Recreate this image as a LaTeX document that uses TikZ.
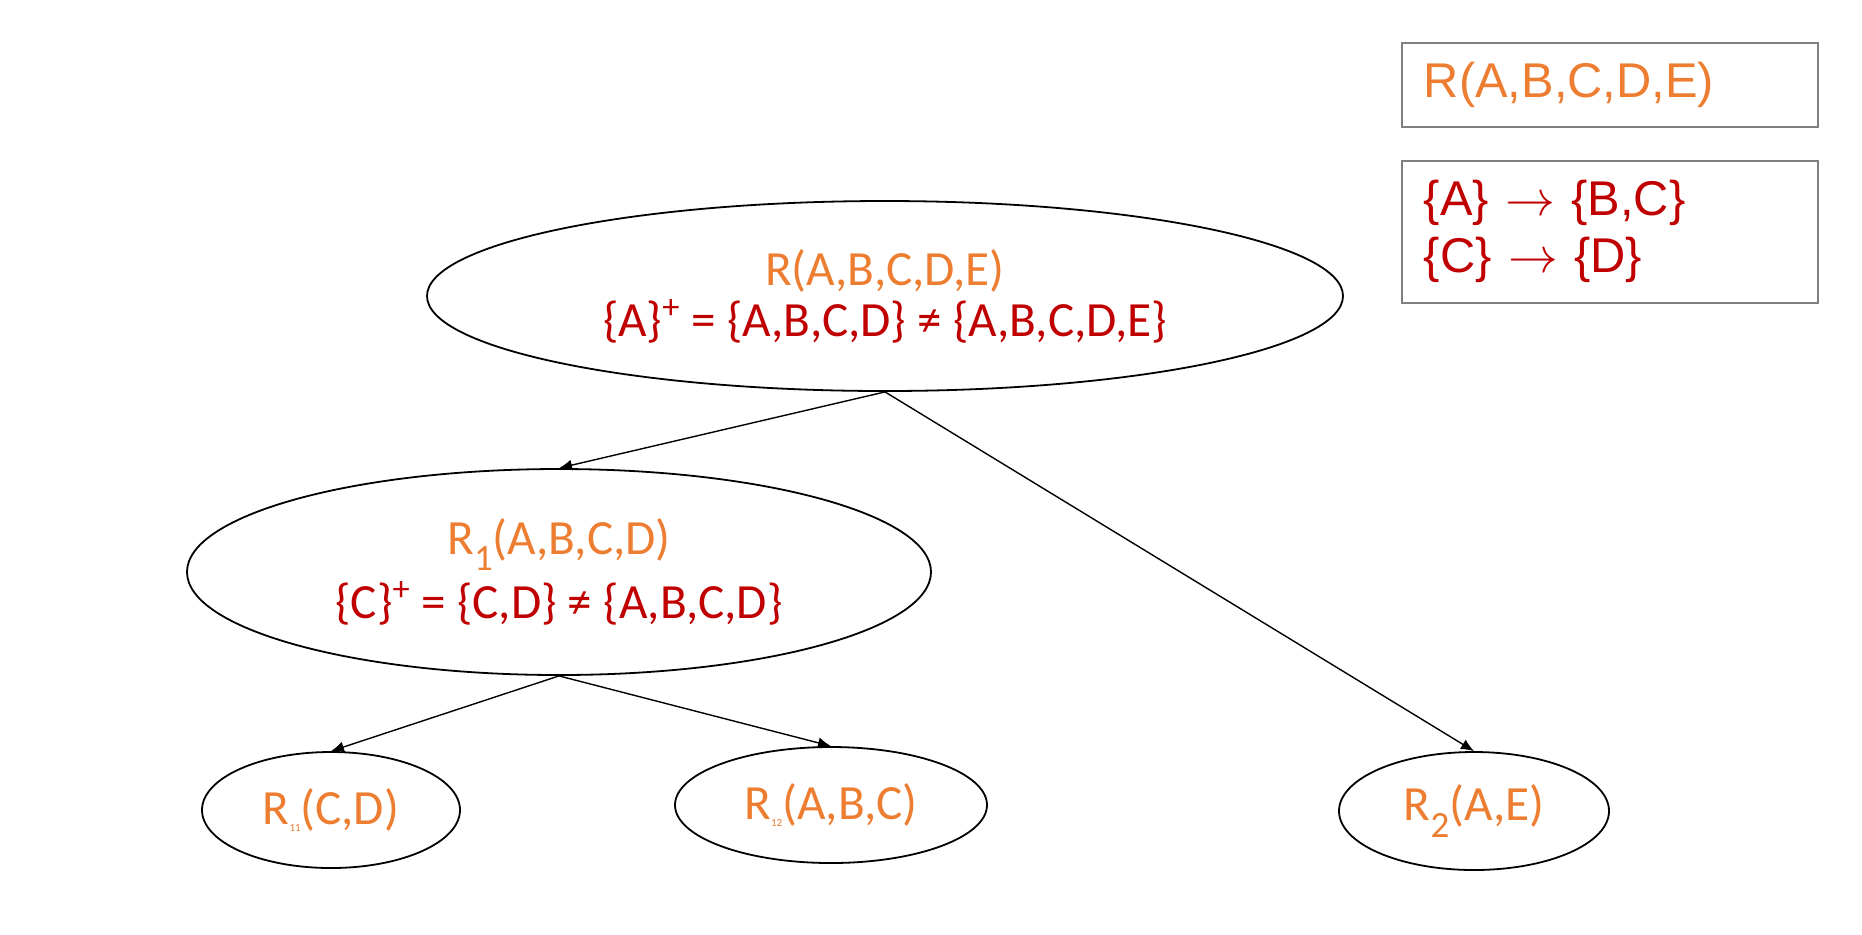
\documentclass[tikz,border=0pt]{standalone}
\usepackage{fontspec}
\setmainfont{Carlito}
\newfontfamily\boxfont{Liberation Sans}
\usetikzlibrary{shapes.geometric,arrows.meta,positioning}
\definecolor{relcolor}{HTML}{ED7D31}
\definecolor{fdcolor}{HTML}{C00000}
\newcommand{\tinysub}[1]{\raisebox{-3.8pt}{\fontsize{5.5}{5.5}\selectfont #1}}
\newcommand{\lowsub}[1]{\raisebox{-8.3pt}{\fontsize{18.5}{18.5}\selectfont #1}}
\tikzset{
  split node/.style 2 args={
    ellipse,
    draw,
    line width=0.9pt,
    minimum width={#1pt},
    minimum height={#2pt},
    inner sep=0pt,
    align=center,
    text=relcolor,
    font=\fontsize{24.6}{25.5}\selectfont,
  },
  rule box/.style={
    draw=gray,
    line width=0.9pt,
    text width=186pt,
    inner xsep=11pt,
    align=left,
    font=\boxfont\fontsize{24.4}{28.5}\selectfont,
  },
  split arrow/.style={
    -{Latex[length=6.5pt,width=5.5pt]},
    line width=0.7pt,
  }
}
\begin{document}
\begin{tikzpicture}[x=0.5pt,y=-0.5pt]
        \useasboundingbox (0,0) rectangle (1862,934);

        \node [rule box, minimum height=42pt, anchor=north west, text=relcolor] (schema) at (1401,42) {R(A,B,C,D,E)};
        \node [rule box, minimum height=71pt, below=16pt of schema, text=fdcolor] (fds) {\{A\} $\rightarrow$ \{B,C\}\\\{C\} $\rightarrow$ \{D\}};

        \node [split node={458}{95}] (r) at (885,296) {R(A,B,C,D,E)\\\textcolor{fdcolor}{\{A\}\textsuperscript{+} = \{A,B,C,D\} ≠ \{A,B,C,D,E\}}};
        \node [split node={372}{103}] (r1) at (559,572) {R\lowsub{1}(A,B,C,D)\\[4.5pt]\textcolor{fdcolor}{\{C\}\textsuperscript{+} = \{C,D\} ≠ \{A,B,C,D\}}};
        \node [split node={129}{58}] (r11) at (331,810) {R\tinysub{11}(C,D)};
        \node [split node={156}{58}] (r12) at (831,805) {R\tinysub{12}(A,B,C)};
        \node [split node={135}{59}] (r2) at (1474,811) {R\lowsub{2}(A,E)};

        \draw [split arrow] (r.south) -- (r1.north);
        \draw [split arrow] (r.south) -- (r2.north);
        \draw [split arrow] (r1.south) -- (r11.north);
        \draw [split arrow] (r1.south) -- (r12.north);
    \end{tikzpicture}
\end{document}
